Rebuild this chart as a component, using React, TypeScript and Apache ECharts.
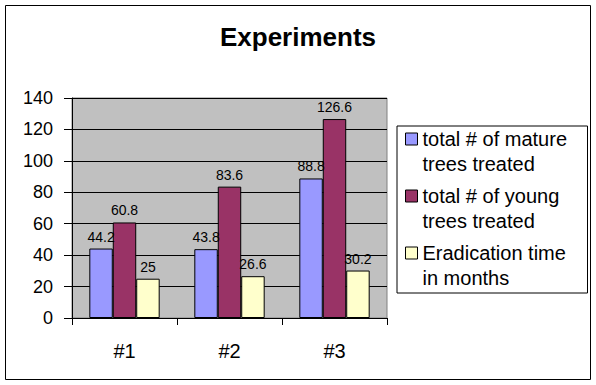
import React, { useEffect, useRef } from "react";
import * as echarts from "echarts";

const categories = ["#1", "#2", "#3"];
const seriesNames = [
  "total # of mature trees treated",
  "total # of young trees treated",
  "Eradication time in months",
];
const legendLines = [
  ["total # of mature", "trees treated"],
  ["total # of young", "trees treated"],
  ["Eradication time", "in months"],
];
const matureTrees = [44.2, 43.8, 88.8];
const youngTrees = [60.8, 83.6, 126.6];
const eradicationMonths = [25, 26.6, 30.2];
const seriesColors = ["#9999FF", "#993366", "#FFFFCC"];
const yMin = 0;
const yMax = 140;
const yStep = 20;

const FONT = "'Liberation Sans', Arial, Helvetica, sans-serif";

export default function App() {
  const ref = useRef<HTMLDivElement>(null);

  useEffect(() => {
    if (!ref.current) return;
    const chart = echarts.init(ref.current, null, { renderer: "svg" });
    const values = [matureTrees, youngTrees, eradicationMonths];
    const labelMap: Record<string, string> = {};
    seriesNames.forEach(
      (n, i) => (labelMap[n] = legendLines[i].map((l) => `{t|${l}}`).join("\n"))
    );

    chart.setOption({
      animation: false,
      backgroundColor: "#FFFFFF",
      textStyle: { fontFamily: FONT },
      title: {
        text: "Experiments",
        left: "center",
        top: 19,
        textStyle: {
          fontFamily: FONT,
          fontSize: 26,
          fontWeight: "bold",
          color: "#000000",
        },
      },
      graphic: [
        {
          type: "rect",
          shape: { x: 5.5, y: 5.5, width: 585, height: 374 },
          style: { fill: "none", stroke: "#000000", lineWidth: 1 },
          silent: true,
          z: -1,
        },
      ],
      legend: {
        orient: "vertical",
        left: 397,
        top: 126,
        padding: [-24.5, 5, 2.5, 8],
        itemGap: -18,
        itemWidth: 12,
        itemHeight: 12,
        borderColor: "#000000",
        borderWidth: 1,
        backgroundColor: "#FFFFFF",
        selectedMode: false,
        icon: "rect",
        itemStyle: { borderColor: "#000000", borderWidth: 1 },
        formatter: (name: string) => labelMap[name] || name,
        textStyle: {
          fontFamily: FONT,
          fontSize: 20,
          lineHeight: 25,
          color: "#000000",
          padding: [25, 0, 0, 0],
          width: 160,
          rich: {
            t: {
              fontFamily: FONT,
              fontSize: 20,
              lineHeight: 25,
              color: "#000000",
            },
          },
        },
        data: seriesNames,
      },
      grid: {
        left: 72,
        top: 98,
        right: 209,
        bottom: 67,
        show: true,
        backgroundColor: "#C0C0C0",
        borderColor: "#808080",
        borderWidth: 1,
      },
      xAxis: {
        type: "category",
        data: categories,
        boundaryGap: true,
        axisLine: { show: true, lineStyle: { color: "#000000", width: 1 } },
        axisTick: { show: true, length: 7, lineStyle: { color: "#000000" } },
        axisLabel: {
          fontFamily: FONT,
          fontSize: 20,
          color: "#000000",
          margin: 23,
        },
      },
      yAxis: {
        type: "value",
        min: yMin,
        max: yMax,
        interval: yStep,
        axisLine: { show: true, lineStyle: { color: "#000000", width: 1 } },
        axisTick: { show: true, length: 8, lineStyle: { color: "#000000" } },
        axisLabel: {
          fontFamily: FONT,
          fontSize: 18,
          color: "#000000",
          margin: 19,
        },
        splitLine: { show: true, lineStyle: { color: "#000000", width: 1 } },
      },
      series: seriesNames.map((name, i) => ({
        name,
        type: "bar",
        data: values[i],
        barGap: "0%",
        barCategoryGap: "33%",
        itemStyle: {
          color: seriesColors[i],
          borderColor: "#000000",
          borderWidth: 1,
        },
        label: {
          show: true,
          position: "top",
          distance: 5,
          fontFamily: FONT,
          fontSize: 14,
          color: "#000000",
        },
      })),
    });

    return () => chart.dispose();
  }, []);

  return (
    <div
      ref={ref}
      style={{ position: "fixed", left: 0, top: 0, width: 596, height: 385 }}
    />
  );
}
